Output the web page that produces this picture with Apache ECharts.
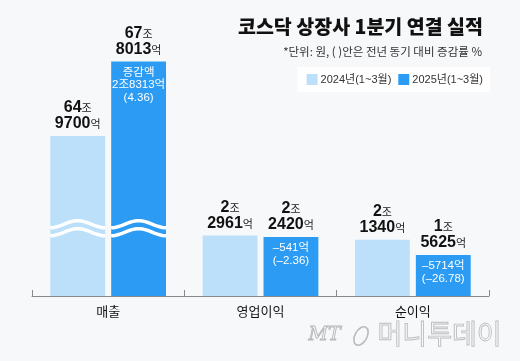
<!DOCTYPE html>
<html>
<head>
<meta charset="utf-8">
<script src="https://cdn.jsdelivr.net/npm/echarts@6/dist/echarts.min.js"></script>
<style>
html,body{margin:0;padding:0;background:#f7f8fa;}
#chart{width:520px;height:361px;}
</style>
</head>
<body>
<div id="chart"></div>
<script>
// ---- data (unit: 억원) ----
const categories = ['매출', '영업이익', '순이익'];
const seriesNames = ['2024년(1~3월)', '2025년(1~3월)'];
const values2024 = [649700, 22961, 21340];
const values2025 = [678013, 22420, 15625];
const changeTexts = ['증감액\n2조8313억\n(4.36)', '–541억\n(–2.36)', '–5714억\n(–26.78)'];
const titleText = '코스닥 상장사 1분기 연결 실적';
const subtitleText = '*단위: 원, ( )안은 전년 동기 대비 증감률 %';
const axisBreakStart = 25000;
const axisBreakEnd = 613900;
const yMax = 693780;
const waveData = [[0, axisBreakStart]];

// ---- styling ----
const NUM_FONT = "'Liberation Sans Narrow', 'Liberation Sans', 'Noto Sans CJK KR', sans-serif";
const KR_FONT = "'Noto Sans CJK KR', sans-serif";
const LIGHT = '#bde0fa';
const DARK = '#2b9bf4';
const BAR_FRAC = 0.36;
const GAP_FRAC = 0.11;

function fmtValue(v) {
  const jo = Math.floor(v / 10000);
  const eok = v % 10000;
  return '{n|' + jo + '}{u|조}\n{n|' + eok + '}{u|억}';
}
const topLabel = {
  show: true,
  position: 'top',
  distance: 4,
  formatter: p => fmtValue(p.value),
  rich: {
    n: { fontSize: 16, fontWeight: 'bold', fontFamily: NUM_FONT, color: '#111', lineHeight: 16 },
    u: { fontSize: 11, fontFamily: KR_FONT, color: '#222', lineHeight: 16 }
  }
};

const chart = echarts.init(document.getElementById('chart'), null, { renderer: 'canvas' });
chart.setOption({
  backgroundColor: '#f7f8fa',
  animation: false,
  title: [
    { text: titleText, right: 32, top: 12,
      textStyle: { fontSize: 19.5, fontWeight: 900, fontFamily: KR_FONT, color: '#111' } },
    { text: subtitleText, right: 33, top: 41,
      textStyle: { fontSize: 11.5, fontWeight: 'normal', fontFamily: KR_FONT, color: '#333' } }
  ],
  legend: {
    data: seriesNames,
    right: 30, top: 67,
    icon: 'rect', itemWidth: 11, itemHeight: 11, itemGap: 7,
    padding: [7, 7, 7, 9],
    backgroundColor: '#fff',
    textStyle: { fontSize: 11, color: '#333', fontFamily: NUM_FONT, padding: [0, 0, 0, -2] }
  },
  grid: { left: 32, right: 31, top: 20, bottom: 65 },
  xAxis: {
    type: 'category',
    data: categories,
    axisLine: { lineStyle: { color: '#888', width: 1 } },
    axisTick: { show: true, inside: true, length: 6, lineStyle: { color: '#888' } },
    axisLabel: { fontSize: 13, color: '#111', fontFamily: KR_FONT, margin: 9 }
  },
  yAxis: {
    type: 'value', min: 0, max: yMax,
    axisLine: { show: false }, axisTick: { show: false },
    axisLabel: { show: false }, splitLine: { show: false },
    breaks: [{ start: axisBreakStart, end: axisBreakEnd, gap: 0 }],
    breakArea: { show: false }
  },
  series: [
    { type: 'bar', name: seriesNames[0], data: values2024, barWidth: (BAR_FRAC * 100) + '%',
      barGap: (GAP_FRAC * 100) + '%', itemStyle: { color: LIGHT }, label: topLabel },
    { type: 'bar', name: seriesNames[1], data: values2025, barWidth: (BAR_FRAC * 100) + '%',
      barGap: (GAP_FRAC * 100) + '%', itemStyle: { color: DARK }, label: topLabel },
    { type: 'custom', name: 'changes', z: 5, silent: true,
      data: values2025.map((v, i) => [i, v]),
      renderItem(params, api) {
        const i = api.value(0);
        const pt = api.coord([i, api.value(1)]);
        const band = api.size([1, 0])[0];
        const bw = band * BAR_FRAC, gap = bw * GAP_FRAC;
        return { type: 'text', style: {
          text: changeTexts[i], x: pt[0] + (bw + gap) / 2, y: pt[1] + 5,
          align: 'center', verticalAlign: 'top', fill: '#fff',
          fontSize: 11.5, lineHeight: 12.5, fontFamily: NUM_FONT } };
      } },
    { type: 'custom', name: 'waves', z: 6, silent: true,
      data: waveData,
      renderItem(params, api) {
        const pt = api.coord([api.value(0), api.value(1)]);
        const band = api.size([1, 0])[0];
        const bw = band * BAR_FRAC, gap = bw * GAP_FRAC;
        const centers = [pt[0] - (bw + gap) / 2, pt[0] + (bw + gap) / 2];
        const children = [];
        centers.forEach(cx => {
          [-4, 4].forEach(off => {
            const pts = [];
            const N = 30;
            for (let k = 0; k <= N; k++) {
              const x = cx - bw / 2 + bw * k / N;
              const y = pt[1] - 2 + off - 3.5 * Math.cos(2 * Math.PI * (x - cx) / bw);
              pts.push([x, y]);
            }
            children.push({ type: 'polyline', shape: { points: pts },
              style: { stroke: '#fff', lineWidth: 3.5, fill: null } });
          });
        });
        return { type: 'group', children };
      } }
  ],
  graphic: [
    { type: 'text', left: 308, top: 325, style: { text: 'MT', fontSize: 19, fontStyle: 'italic',
      fontFamily: "'DejaVu Serif', serif", fill: 'none', stroke: '#b8b8b8', lineWidth: 0.9 } },
    { type: 'ellipse', shape: { cx: 361, cy: 336, rx: 6, ry: 10 }, rotation: -0.5, originX: 361, originY: 336,
      style: { fill: 'none', stroke: '#bbb', lineWidth: 1.6 } },
    { type: 'text', left: 377, top: 320, style: { text: '머니투데이', fontSize: 27,
      fontFamily: KR_FONT, fill: 'none', stroke: '#bdbdbd', lineWidth: 0.9 } }
  ]
});
</script>
</body>
</html>
